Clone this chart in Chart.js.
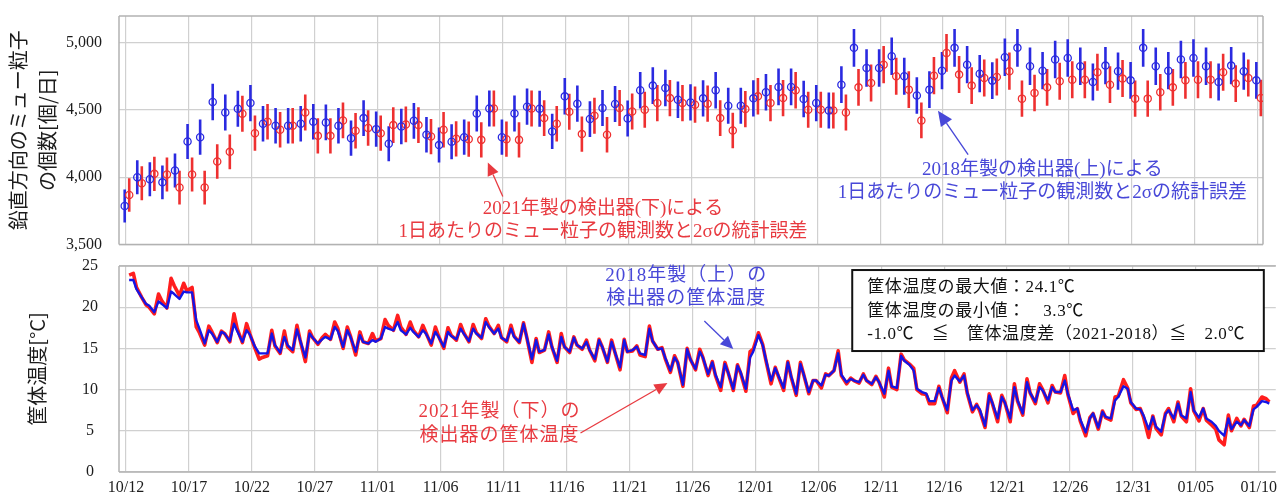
<!DOCTYPE html>
<html lang="ja">
<head>
<meta charset="utf-8">
<title>ミュー粒子の観測数と筐体温度</title>
<script src="https://cdn.jsdelivr.net/npm/chart.js@4.4.1/dist/chart.umd.min.js"></script>
<style>
  html, body { margin: 0; padding: 0; background: #fff; }
  #wrap { position: relative; width: 1277px; height: 496px; overflow: hidden; background: #fff; }
  #muon { position: absolute; left: 0; top: 0; width: 1277px; height: 254px; }
  #temp { position: absolute; left: 0; top: 255px; width: 1277px; height: 241px; }
</style>
</head>
<body>
<div id="wrap">
  <div id="muon"><canvas id="muonChart"></canvas></div>
  <div id="temp"><canvas id="tempChart"></canvas></div>
</div>
<script>
// Date labels, one every 5 days starting 10/12 (day 0)
const dayLabels = ['10/12','10/17','10/22','10/27','11/01','11/06','11/11','11/16','11/21','11/26',
                   '12/01','12/06','12/11','12/16','12/21','12/26','12/31','01/05','01/10'];

// Daily vertical muon counts [counts/day], detector built 2018 (upper)
const count2018 = [3786,4000,3985,3962,4050,4266,4298,4560,4482,4510,
                   4552,4398,4383,4383,4398,4413,4408,4383,4291,4440,
                   4358,4249,4378,4420,4316,4239,4264,4298,4475,4512,
                   4298,4475,4525,4510,4341,4602,4547,4433,4515,4545,
                   4437,4647,4682,4664,4577,4557,4587,4647,4532,4532,
                   4587,4632,4672,4672,4582,4552,4497,4689,4963,4813,
                   4813,4900,4751,4609,4652,4793,4963,4838,4771,4719,
                   4893,4963,4826,4793,4876,4888,4826,4709,4831,4789,
                   4721,4963,4826,4793,4876,4888,4826,4709,4831,4789,
                   4721];

// Daily vertical muon counts [counts/day], detector built 2021 (lower)
const count2021 = [3868,3955,4025,4020,3923,4020,3923,4117,4189,4473,
                   4328,4413,4353,4383,4482,4308,4308,4423,4346,4366,
                   4328,4388,4393,4388,4303,4353,4286,4283,4278,4512,
                   4283,4278,4512,4440,4398,4487,4321,4458,4316,4515,
                   4490,4502,4552,4589,4552,4540,4547,4440,4348,4507,
                   4602,4552,4589,4647,4502,4502,4497,4482,4669,4701,
                   4838,4751,4652,4423,4756,4925,4764,4682,4739,4746,
                   4789,4585,4627,4669,4714,4726,4726,4781,4689,4734,
                   4585,4585,4632,4669,4721,4726,4726,4781,4697,4739,
                   4590];

// Housing temperature [°C], read at these hours of each day
const tempHours = [6, 14, 20];

const temp2018 = [
  [23.3,23.3,22.2],[21.2,20.4,20.2],[19.4,20.7,20.4],[19.9,21.9,21.6],[21.0,21.9,21.8],
  [21.8,18.4,17.4],[15.6,17.2,16.8],[15.8,17.0,16.8],[15.9,18.0,17.1],[15.8,17.2,16.7],
  [15.2,14.4,14.4],[14.4,16.8,15.4],[14.5,16.4,15.4],[14.8,17.3,16.0],[13.9,16.8,16.3],
  [15.6,16.1,16.4],[16.1,17.6,17.1],[15.2,17.2,16.4],[14.6,16.6,15.8],[15.6,16.0,15.8],
  [16.2,17.6,17.4],[17.2,18.2,17.2],[16.7,17.5,17.0],[16.4,17.2,16.8],[15.6,17.0,16.4],
  [15.2,17.0,16.5],[16.1,17.4,16.8],[15.9,17.4,16.8],[16.3,18.2,17.6],[16.8,17.4,16.3],
  [15.9,17.4,16.4],[15.8,18.0,16.4],[13.7,16.0,14.6],[14.8,16.7,15.2],[13.5,16.4,15.2],
  [14.6,16.3,15.4],[15.0,15.8,14.8],[13.7,16.0,15.2],[13.4,15.8,14.6],[12.7,16.0,14.6],
  [14.8,15.2,14.4],[14.2,17.4,15.9],[14.9,15.0,13.9],[12.3,13.9,13.3],[10.6,14.9,13.7],
  [12.5,14.6,13.9],[11.9,13.3,11.8],[10.3,13.1,12.1],[10.1,12.9,12.1],[10.1,13.9,14.6],
  [16.6,15.4,13.7],[11.1,12.6,11.7],[10.2,13.3,11.7],[ 9.5,13.1,11.9],[ 9.7,11.1,11.1],
  [10.5,11.8,11.7],[12.3,14.4,11.8],[10.9,11.3,11.1],[10.9,11.8,11.1],[10.7,11.5,10.9],
  [ 9.5,12.3,10.4],[10.2,14.1,13.5],[13.0,12.3,10.1],[ 9.7, 9.5, 8.6],[ 8.6,10.2, 9.1],
  [ 7.5,11.1,11.7],[11.0,11.7, 9.7],[ 7.5, 8.1, 7.6],[ 5.6, 9.3, 8.4],[ 6.5, 9.1, 8.4],
  [ 6.5,10.3, 8.7],[ 7.1,10.9, 9.6],[ 8.5,10.3, 9.9],[ 8.7,10.3, 9.7],[ 9.7,11.1, 9.5],
  [ 7.5, 7.7, 6.3],[ 4.8, 6.5, 7.1],[ 5.4, 7.3, 6.7],[ 6.5, 8.7, 9.1],[10.4,10.1, 8.5],
  [ 7.7, 7.6, 6.9],[ 5.2, 6.7, 5.5],[ 4.9, 7.0, 7.5],[ 6.5, 8.3, 6.9],[ 6.5, 9.7, 7.5],
  [ 6.6, 7.7, 6.5],[ 6.1, 5.6, 5.0],[ 4.4, 6.5, 5.2],[ 6.1, 5.7, 6.3],[ 5.6, 7.6, 7.9],
  [ 8.6, 8.5, 8.3]
];

const temp2021 = [
  [23.9,24.1,22.4],[21.2,20.3,20.0],[19.2,21.6,20.8],[19.9,23.5,22.6],[21.4,22.9,22.0],
  [22.4,17.6,16.9],[15.4,17.7,17.0],[15.7,17.1,16.8],[15.8,19.2,17.4],[15.7,18.0,16.8],
  [15.0,13.7,13.9],[14.1,17.2,15.3],[14.4,17.1,15.2],[14.6,17.8,16.0],[13.4,17.1,16.3],
  [15.5,16.3,16.7],[16.1,18.2,17.4],[15.0,17.6,16.5],[14.2,17.0,15.8],[15.6,16.8,15.9],
  [16.2,18.5,17.8],[17.2,19.0,17.6],[16.7,18.2,17.2],[16.4,17.8,16.9],[15.4,17.6,16.5],
  [15.0,17.5,16.6],[16.0,17.9,16.9],[15.8,17.9,16.9],[16.2,18.6,17.7],[16.8,17.8,16.3],
  [15.8,17.8,16.5],[15.7,18.1,16.4],[13.3,16.2,14.5],[14.8,17.0,15.2],[13.3,16.8,15.2],
  [14.5,16.4,15.4],[14.9,16.0,14.8],[13.5,16.1,15.2],[13.3,16.0,14.6],[12.4,16.1,14.6],
  [14.7,15.3,14.2],[14.0,17.7,15.9],[14.9,15.1,13.8],[12.1,14.1,13.3],[10.4,15.0,13.7],
  [12.4,14.9,13.9],[11.7,13.4,11.7],[ 9.9,13.3,12.1],[ 9.9,13.0,12.0],[ 9.8,14.6,14.9],
  [16.9,15.5,13.6],[10.7,12.7,11.6],[ 9.9,13.4,11.6],[ 9.3,13.3,11.9],[ 9.5,11.1,11.1],
  [10.2,11.9,11.7],[12.3,14.7,11.7],[10.7,11.4,11.1],[10.8,11.9,11.1],[10.6,11.6,10.9],
  [ 9.1,12.6,10.3],[10.0,14.3,13.6],[13.1,12.6,10.0],[ 9.5, 9.4, 8.3],[ 8.3,10.4, 9.1],
  [ 7.2,11.4,12.3],[10.9,11.9, 9.6],[ 7.3, 8.2, 7.4],[ 5.4, 9.5, 8.3],[ 6.1, 9.3, 8.4],
  [ 6.1,10.7, 8.6],[ 6.9,11.3, 9.6],[ 8.3,10.7,10.0],[ 8.4,10.5, 9.7],[ 9.6,11.7, 9.4],
  [ 7.1, 7.7, 6.1],[ 4.4, 6.6, 7.1],[ 5.2, 7.4, 6.6],[ 6.3, 9.1, 9.2],[11.2,10.2, 8.4],
  [ 7.6, 7.7, 6.7],[ 4.2, 6.8, 5.3],[ 4.5, 7.1, 7.7],[ 6.1, 8.5, 6.8],[ 6.1,10.1, 7.4],
  [ 6.2, 7.7, 6.3],[ 5.7, 5.2, 3.9],[ 3.3, 6.9, 5.0],[ 6.5, 5.6, 6.4],[ 5.4, 8.0, 8.1],
  [ 9.1, 8.9, 8.5]
];

// ---- styling ----
const SERIF = '"Liberation Serif", "Times New Roman", serif';
const JP = '"Noto Sans CJK JP", "Noto Sans", sans-serif';
const MIX = '"Liberation Serif", "Noto Sans CJK JP", serif';
const INK = '#1c1c1c';
const GRID = '#d0d0d0';
const FRAME = '#b2b2b2';
const CLEAR = 'rgba(0,0,0,0)';
const BLUE = '#2a2ae0';
const RED = '#ee3030';
const BLUE_LINE = '#1414e6';
const RED_LINE = '#ff1e1e';
const BLUE_TEXT = '#4848d8';
const RED_TEXT = '#e83a40';

// each detector's daily marker sits slightly to one side of its day
const SHIFT_2018 = -0.08;
const SHIFT_2021 = 0.28;

// counts with a 2σ statistical error (σ = √N)
function whiskers(counts, shift) {
  return counts.map((n, d) => {
    const e = 2 * Math.sqrt(n);
    return { x: d + shift, y: [n - e, n + e] };
  });
}
function centres(counts, shift) {
  return counts.map((n, d) => ({ x: d + shift, y: n }));
}
function tempSeries(rows) {
  const pts = [];
  rows.forEach((row, d) => row.forEach((v, k) => pts.push({ x: d + tempHours[k] / 24, y: v })));
  return pts;
}
function dayTicks(scale) {
  scale.ticks = dayLabels.map((_, i) => ({ value: i * 5 }));
}

// grey frame round the plotting area
function makeFrame(sides) {
  return {
    id: 'frame',
    beforeDatasetsDraw(chart) {
      const { ctx, chartArea: a } = chart;
      ctx.save();
      ctx.strokeStyle = FRAME;
      ctx.lineWidth = 1.5;
      ctx.beginPath();
      if (sides.includes('t')) { ctx.moveTo(a.left, a.top); ctx.lineTo(a.right, a.top); }
      if (sides.includes('r')) { ctx.moveTo(a.right, a.top); ctx.lineTo(a.right, a.bottom); }
      if (sides.includes('b')) { ctx.moveTo(a.left, a.bottom); ctx.lineTo(a.right, a.bottom); }
      if (sides.includes('l')) { ctx.moveTo(a.left, a.top); ctx.lineTo(a.left, a.bottom); }
      ctx.stroke();
      ctx.restore();
    }
  };
}

// callouts placed in data units (day, value)
function makeNotes(cfg) {
  return {
    id: 'notes',
    afterDatasetsDraw(chart) {
      const { ctx } = chart;
      const X = chart.scales.x, Y = chart.scales.y;
      const px = (d, v) => [X.getPixelForValue(d), Y.getPixelForValue(v)];
      ctx.save();
      (cfg.boxes || []).forEach(b => {
        const [x1, y1] = px(b.from[0], b.from[1]);
        const [x2, y2] = px(b.to[0], b.to[1]);
        ctx.fillStyle = '#fff';
        ctx.fillRect(x1, y1, x2 - x1, y2 - y1);
        ctx.strokeStyle = b.color;
        ctx.lineWidth = b.width;
        ctx.strokeRect(x1, y1, x2 - x1, y2 - y1);
      });
      (cfg.arrows || []).forEach(a => {
        const [fx, fy] = px(a.from[0], a.from[1]);
        const [tx, ty] = px(a.to[0], a.to[1]);
        const ang = Math.atan2(ty - fy, tx - fx);
        const L = a.head, W = a.head * 0.45;
        const bx = tx - L * Math.cos(ang), by = ty - L * Math.sin(ang);
        ctx.strokeStyle = a.color;
        ctx.fillStyle = a.color;
        ctx.lineWidth = a.width;
        ctx.beginPath();
        ctx.moveTo(fx, fy);
        ctx.lineTo(bx, by);
        ctx.stroke();
        ctx.beginPath();
        ctx.moveTo(tx, ty);
        ctx.lineTo(bx - W * Math.sin(ang), by + W * Math.cos(ang));
        ctx.lineTo(bx + W * Math.sin(ang), by - W * Math.cos(ang));
        ctx.closePath();
        ctx.fill();
      });
      (cfg.texts || []).forEach(t => {
        ctx.font = t.font;
        ctx.fillStyle = t.color;
        ctx.textAlign = t.align;
        ctx.textBaseline = 'middle';
        if ('letterSpacing' in ctx) ctx.letterSpacing = t.spacing || '0px';
        t.lines.forEach((s, i) => {
          const [x, y] = px(t.day, t.vals[i]);
          ctx.fillText(s, x, y);
        });
      });
      ctx.restore();
    }
  };
}

Chart.defaults.font.family = SERIF;
Chart.defaults.color = INK;

// ---- upper panel: daily muon counts with 2σ error bars ----
new Chart(document.getElementById('muonChart'), {
  type: 'bar',
  data: {
    datasets: [
      { type: 'scatter', label: '2018年製', data: centres(count2018, SHIFT_2018),
        borderColor: BLUE, backgroundColor: CLEAR, pointRadius: 3.6,
        pointBorderWidth: 1.3, pointHoverRadius: 3.6 },
      { type: 'scatter', label: '2021年製', data: centres(count2021, SHIFT_2021),
        borderColor: RED, backgroundColor: CLEAR, pointRadius: 3.6,
        pointBorderWidth: 1.3, pointHoverRadius: 3.6 },
      { type: 'bar', label: '2018年製 2σ', data: whiskers(count2018, SHIFT_2018),
        backgroundColor: BLUE, borderWidth: 0, grouped: false, maxBarThickness: 2.6 },
      { type: 'bar', label: '2021年製 2σ', data: whiskers(count2021, SHIFT_2021),
        backgroundColor: RED, borderWidth: 0, grouped: false, maxBarThickness: 2.6 }
    ]
  },
  options: {
    responsive: true, maintainAspectRatio: false, animation: false, devicePixelRatio: 1,
    events: [],
    layout: { padding: { top: 16, right: 14, bottom: 9, left: 0 } },
    plugins: { legend: { display: false }, tooltip: { enabled: false } },
    scales: {
      x: {
        type: 'linear', min: -0.533, max: 90.45, offset: false,
        grid: { color: GRID, lineWidth: 1.2, drawTicks: false, offset: false },
        border: { display: false },
        ticks: { display: false },
        afterBuildTicks: dayTicks,
        afterFit: s => { s.height = 0; }
      },
      y: {
        min: 3500, max: 5200,
        afterBuildTicks: s => { s.ticks = [3500, 4000, 4500, 5000].map(v => ({ value: v })); },
        grid: { color: GRID, lineWidth: 1.2, drawTicks: true, tickLength: 17, tickColor: CLEAR },
        border: { display: false },
        ticks: { padding: 0, color: INK, font: { family: SERIF, size: 16 },
                 callback: v => v.toLocaleString('en-US') },
        title: { display: true, text: ['鉛直方向のミュー粒子', 'の個数[個/日]'], color: INK,
                 font: { family: JP, size: 20, lineHeight: 1.45 }, padding: { top: 4, bottom: 0 } },
        afterFit: s => { s.width = 119; }
      }
    }
  },
  plugins: [
    makeFrame('trbl'),
    makeNotes({
      texts: [
        { lines: ['2021年製の検出器(下)による', '1日あたりのミュー粒子の観測数と2σの統計誤差'],
          day: 37.96, vals: [3760, 3589], color: RED_TEXT, align: 'center', font: '19px ' + MIX },
        { lines: ['2018年製の検出器(上)による', '1日あたりのミュー粒子の観測数と2σの統計誤差'],
          day: 72.9, vals: [4057, 3886], color: BLUE_TEXT, align: 'center', font: '19px ' + MIX }
      ],
      arrows: [
        { from: [29.99, 3856], to: [28.8, 4109], color: RED_TEXT, width: 1.3, head: 13 },
        { from: [67.0, 4168], to: [64.6, 4495], color: BLUE_TEXT, width: 1.3, head: 15 }
      ]
    })
  ]
});

// ---- lower panel: housing temperature of both detectors ----
new Chart(document.getElementById('tempChart'), {
  type: 'line',
  data: {
    datasets: [
      { label: '2018年製（上）', data: tempSeries(temp2018), borderColor: BLUE_LINE,
        borderWidth: 2.4, pointRadius: 0, tension: 0, borderJoinStyle: 'round' },
      { label: '2021年製（下）', data: tempSeries(temp2021), borderColor: RED_LINE,
        borderWidth: 3.6, pointRadius: 0, tension: 0, borderJoinStyle: 'round' }
    ]
  },
  options: {
    responsive: true, maintainAspectRatio: false, animation: false, devicePixelRatio: 1,
    events: [],
    layout: { padding: { top: 11, right: 0, bottom: 0, left: 0 } },
    plugins: { legend: { display: false }, tooltip: { enabled: false } },
    scales: {
      x: {
        type: 'linear', min: -0.556, max: 91.35, offset: false,
        grid: { color: GRID, lineWidth: 1.2, drawTicks: true, tickLength: 6, tickColor: CLEAR },
        border: { display: false },
        afterBuildTicks: dayTicks,
        ticks: { autoSkip: false, maxRotation: 0, padding: 0, color: INK,
                 font: { family: SERIF, size: 16 },
                 callback: v => dayLabels[Math.round(v / 5)] },
        afterFit: s => { s.height = 24; }
      },
      y: {
        min: 0, max: 25,
        afterBuildTicks: s => { s.ticks = [0, 5, 10, 15, 20, 25].map(v => ({ value: v })); },
        grid: { color: GRID, lineWidth: 1.2, drawTicks: true, tickLength: 21, tickColor: CLEAR },
        border: { display: false },
        ticks: { padding: 0, crossAlign: 'center', color: INK, font: { family: SERIF, size: 16 } },
        title: { display: true, text: '筐体温度[°C]', color: INK,
                 font: { family: JP, size: 20, lineHeight: 1.2 }, padding: { top: 25, bottom: 0 } },
        afterFit: s => { s.width = 119; }
      }
    }
  },
  plugins: [
    makeFrame('tbl'),
    makeNotes({
      boxes: [ { from: [57.7, 24.51], to: [90.4, 14.68], color: '#111', width: 2 } ],
      texts: [
        { lines: ['2018年製（上）の', '検出器の筐体温度'], day: 44.52, vals: [23.79, 20.99],
          color: BLUE_TEXT, align: 'center', font: '19px ' + MIX, spacing: '1px' },
        { lines: ['2021年製（下）の', '検出器の筐体温度'], day: 29.68, vals: [7.28, 4.37],
          color: RED_TEXT, align: 'center', font: '19px ' + MIX, spacing: '1px' },
        { lines: ['筐体温度の最大値：24.1℃', '筐体温度の最小値：　3.3℃',
                  '-1.0℃　≦　筐体温度差（2021-2018）≦　2.0℃'],
          day: 58.89, vals: [22.33, 19.42, 16.63], color: '#111', align: 'left',
          font: '17px ' + MIX, spacing: '0.6px' }
      ],
      arrows: [
        { from: [45.95, 18.33], to: [48.25, 14.93], color: BLUE_TEXT, width: 1.3, head: 13 },
        { from: [36.11, 4.73], to: [43.02, 10.8], color: RED_TEXT, width: 1.3, head: 13 }
      ]
    })
  ]
});
</script>
</body>
</html>
